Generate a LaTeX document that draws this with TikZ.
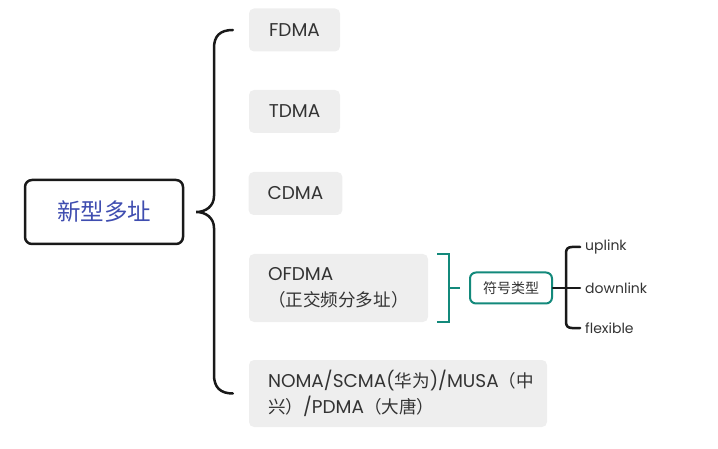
\documentclass[tikz,border=0pt]{standalone}
\usepackage{fontspec}
\setmainfont{Poppins}
\newfontfamily\cjk{Noto Sans CJK SC}[Scale=0.95]
\newfontfamily\cjkroot{Noto Sans CJK SC}
\definecolor{rootblue}{HTML}{3F4DB0}
\definecolor{boxgray}{HTML}{EEEEEE}
\definecolor{txt}{HTML}{333333}
\definecolor{teal2}{HTML}{13897B}
\begin{document}
\begin{tikzpicture}[x=1pt,y=-1pt,
  gbox/.style={draw=none,fill=boxgray,rounded corners=5pt,text=txt,inner xsep=19pt,inner ysep=0pt,font=\fontsize{18.5}{25.5}\selectfont},
  rootbox/.style={draw=black!90,line width=2.5pt,rounded corners=7pt,fill=white,text=rootblue,minimum width=158pt,minimum height=64pt,font=\cjkroot\fontsize{23.5}{26}\selectfont},
  symbox/.style={draw=teal2,line width=2pt,rounded corners=6pt,fill=white,text=txt,minimum width=82pt,minimum height=31pt,inner sep=0pt,font=\cjkroot\fontsize{14}{16}\selectfont},
  leaf/.style={anchor=west,text=txt,inner sep=0pt,font=\fontsize{14}{16}\selectfont},
  bigbrace/.style={draw=black!90,line width=2.5pt,line cap=round},
  smallbrace/.style={draw=black!90,line width=2.5pt,line cap=round},
  tealline/.style={draw=teal2,line width=2pt}]
\useasboundingbox (0,0) rectangle (718,449);
\node[rootbox] (root) at (104,212) {新型多址};
\node[gbox,minimum width=91pt,minimum height=43pt] (fdma) at (294.5,30) {FDMA};
\node[gbox,minimum width=91pt,minimum height=43pt] (tdma) at (294.5,111.5) {TDMA};
\node[gbox,minimum width=93pt,minimum height=43pt] (cdma) at (295.5,193.5) {CDMA};
\node[gbox,minimum height=68pt,text width=141pt,align=left] (ofdma) at (338.5,288) {OFDMA\\{\cjk （正交频分多址）}};
\node[gbox,minimum height=67pt,text width=260pt,align=left] (noma) at (398,393.5) {NOMA/SCMA({\cjk 华为})/MUSA{\cjk （中}\\{\cjk 兴）}/PDMA{\cjk （大唐）}};
% big brace
\draw[bigbrace] ([xshift=-16pt]fdma.west) .. controls (220,30) and (214,36) .. (214,48) -- (214,196)
  .. controls (214,206) and (206,212) .. ([xshift=12pt]root.east)
  .. controls (206,212) and (214,218) .. (214,228) -- (214,375)
  .. controls (214,387) and (220,393.5) .. ([xshift=-16pt]noma.west);
% teal bracket
\node[symbox] (sym) at (511,288) {符号类型};
\draw[tealline] (437,254) -- (449,254) -- (449,322) -- (437,322);
\draw[tealline] (449,288) -- ([xshift=-9pt]sym.west);
% small brace
\node[leaf] (up) at (585,247) {uplink};
\node[leaf] (down) at (585,288) {downlink};
\node[leaf] (flex) at (585,328) {flexible};
\draw[smallbrace] ([xshift=-5pt]up.west) -- (572,247) .. controls (568,247) and (566,249) .. (566,253) -- (566,322) .. controls (566,326) and (568,328) .. (572,328) -- ([xshift=-5pt]flex.west);
\draw[smallbrace] (sym.east) -- ([xshift=-5pt]down.west);
\end{tikzpicture}
\end{document}
